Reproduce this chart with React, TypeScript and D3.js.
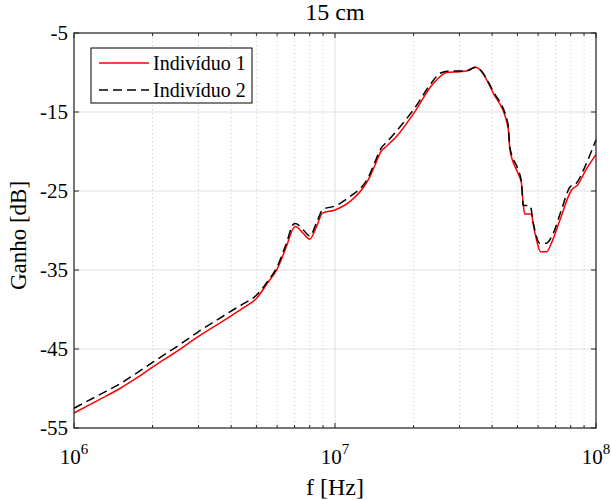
import React from "react";
import * as d3 from "d3";

const freq1 = [1e6, 1.25e6, 1.5e6, 1.75e6, 2e6, 2.5e6, 3e6, 3.5e6, 4e6, 4.5e6, 5e6, 5.5e6, 6e6, 6.5e6, 6.93e6, 7.05e6, 7.55e6, 8e6, 8.5e6, 8.95e6, 1e7, 1.14e7, 1.3e7, 1.34e7, 1.42e7, 1.5e7, 1.58e7, 1.72e7, 2e7, 2.38e7, 2.68e7, 3e7, 3.18e7, 3.45e7, 3.55e7, 4.04e7, 4.6e7, 4.68e7, 5.03e7, 5.18e7, 5.26e7, 5.33e7, 5.66e7, 5.74e7, 5.92e7, 6.13e7, 6.46e7, 6.75e7, 7.27e7, 8.05e7, 8.52e7, 9.16e7, 1e8];
const gain1 = [-53.1, -51.4, -50.0, -48.6, -47.3, -45.2, -43.4, -42.0, -40.8, -39.7, -38.6, -36.7, -34.9, -32.1, -29.7, -29.5, -30.35, -31.1, -29.5, -27.8, -27.4, -26.35, -24.3, -23.6, -21.8, -20.0, -19.3, -18.1, -15.2, -11.4, -10.0, -9.9, -9.8, -9.35, -9.5, -12.6, -16.9, -19.8, -22.8, -24.0, -26.6, -27.9, -27.9, -29.1, -31.2, -32.7, -32.7, -31.6, -28.7, -24.9, -24.2, -22.3, -20.4];

const freq2 = [1e6, 1.25e6, 1.5e6, 1.75e6, 2e6, 2.5e6, 3e6, 3.5e6, 4e6, 4.5e6, 5e6, 5.5e6, 6e6, 6.5e6, 6.93e6, 7.05e6, 7.55e6, 8e6, 8.5e6, 9e6, 1e7, 1.14e7, 1.3e7, 1.34e7, 1.42e7, 1.5e7, 1.58e7, 1.7e7, 2e7, 2.38e7, 2.52e7, 2.75e7, 3e7, 3.2e7, 3.45e7, 3.55e7, 4.04e7, 4.6e7, 4.68e7, 5.03e7, 5.18e7, 5.26e7, 5.6e7, 5.74e7, 6.1e7, 6.46e7, 6.85e7, 7.37e7, 7.95e7, 8.42e7, 9.08e7, 1e8];
const gain2 = [-52.5, -50.8, -49.4, -48.0, -46.7, -44.6, -42.8, -41.4, -40.2, -39.2, -38.2, -36.5, -34.6, -31.7, -29.2, -29.1, -29.9, -30.7, -29.0, -27.3, -26.9, -25.7, -24.0, -23.3, -21.4, -19.6, -18.8, -17.6, -14.7, -11.0, -10.1, -9.8, -9.8, -9.8, -9.35, -9.5, -12.4, -16.5, -19.5, -22.3, -23.8, -26.8, -26.9, -28.9, -31.6, -31.6, -30.4, -27.4, -24.5, -24.0, -21.9, -18.5];

const yTicks = [-55, -45, -35, -25, -15, -5];
const xMajor = [1e6, 1e7, 1e8];
const xExponents = ["6", "7", "8"];
const seriesNames = ["Indivíduo 1", "Indivíduo 2"];
const title = "15 cm";
const xLabel = "f [Hz]";
const yLabel = "Ganho [dB]";

const W = 611, H = 500;
const L = 74, R = 596, T = 33, B = 428;
const FONT = "Liberation Serif, DejaVu Serif, serif";
const tf = { fontFamily: FONT } as React.CSSProperties;

export default function App() {
  const x = d3.scaleLog().domain([1e6, 1e8]).range([L, R]);
  const y = d3.scaleLinear().domain([-55, -5]).range([B, T]);
  const minor: number[] = [];
  for (const dec of [1e6, 1e7]) for (let k = 2; k <= 9; k++) minor.push(dec * k);

  const line = d3.line<[number, number]>().x(d => x(d[0])).y(d => y(d[1])).curve(d3.curveMonotoneX);
  const d1 = line(freq1.map((f, i) => [f, gain1[i]]));
  const d2 = line(freq2.map((f, i) => [f, gain2[i]]));
  const axisColor = "#262626";

  return (
    <svg width={W} height={H} style={{ position: "absolute", left: 0, top: 0, background: "#fff" }}>
      <rect x={0} y={0} width={W} height={H} fill="#fff" />
      <rect x={L} y={T} width={R - L} height={B - T} fill="#fff" />
      {/* grid */}
      {yTicks.map(t => (
        <line key={"gy" + t} x1={L} x2={R} y1={y(t)} y2={y(t)} stroke="#dfdfdf" strokeWidth={1} />
      ))}
      {minor.map(m => (
        <line key={"gm" + m} x1={x(m)} x2={x(m)} y1={T} y2={B} stroke="#c8c8c8" strokeWidth={1} strokeDasharray="1,3" />
      ))}
      {xMajor.map(t => (
        <line key={"gx" + t} x1={x(t)} x2={x(t)} y1={T} y2={B} stroke="#dfdfdf" strokeWidth={1} />
      ))}
      {/* curves */}
      <path d={d1 || ""} fill="none" stroke="#ff0000" strokeWidth={1.5} />
      <path d={d2 || ""} fill="none" stroke="#000" strokeWidth={1.5} strokeDasharray="9,5" />
      {/* ticks */}
      {minor.map(m => (
        <g key={"tm" + m}>
          <line x1={x(m)} x2={x(m)} y1={B} y2={B - 3} stroke={axisColor} />
          <line x1={x(m)} x2={x(m)} y1={T} y2={T + 3} stroke={axisColor} />
        </g>
      ))}
      {xMajor.map(t => (
        <g key={"tx" + t}>
          <line x1={x(t)} x2={x(t)} y1={B} y2={B - 5} stroke={axisColor} />
          <line x1={x(t)} x2={x(t)} y1={T} y2={T + 5} stroke={axisColor} />
        </g>
      ))}
      {yTicks.map(t => (
        <g key={"ty" + t}>
          <line x1={L} x2={L + 5} y1={y(t)} y2={y(t)} stroke={axisColor} />
          <line x1={R} x2={R - 5} y1={y(t)} y2={y(t)} stroke={axisColor} />
        </g>
      ))}
      <rect x={L} y={T} width={R - L} height={B - T} fill="none" stroke={axisColor} strokeWidth={1.2} />
      {/* tick labels */}
      {yTicks.map(t => (
        <text key={"ly" + t} style={tf} x={L - 6} y={y(t)} dy="0.35em" textAnchor="end" fontSize={21} fill="#000">{String(t)}</text>
      ))}
      {xMajor.map((t, i) => (
        <text key={"lx" + t} style={tf} x={x(t)} y={464} textAnchor="middle" fontSize={21} fill="#000">
          <tspan>10</tspan>
          <tspan fontSize={15} dy={-10}>{xExponents[i]}</tspan>
        </text>
      ))}
      {/* labels */}
      <text style={tf} x={(L + R) / 2} y={20} textAnchor="middle" fontSize={24} fill="#000">{title}</text>
      <text style={tf} x={(L + R) / 2} y={495} textAnchor="middle" fontSize={24} fill="#000">{xLabel}</text>
      <text style={tf} transform={`translate(26,${(T + B) / 2 + 5}) rotate(-90)`} textAnchor="middle" fontSize={23} fill="#000">{yLabel}</text>
      {/* legend */}
      <rect x={91} y={48} width={161} height={55} fill="#fff" stroke="#000" strokeWidth={1} />
      <line x1={99} x2={149} y1={63} y2={63} stroke="#ff0000" strokeWidth={1.5} />
      <line x1={99} x2={149} y1={90} y2={90} stroke="#000" strokeWidth={1.5} strokeDasharray="9,5" />
      <text style={tf} x={153} y={70} fontSize={20} fill="#000">{seriesNames[0]}</text>
      <text style={tf} x={153} y={97} fontSize={20} fill="#000">{seriesNames[1]}</text>
    </svg>
  );
}
